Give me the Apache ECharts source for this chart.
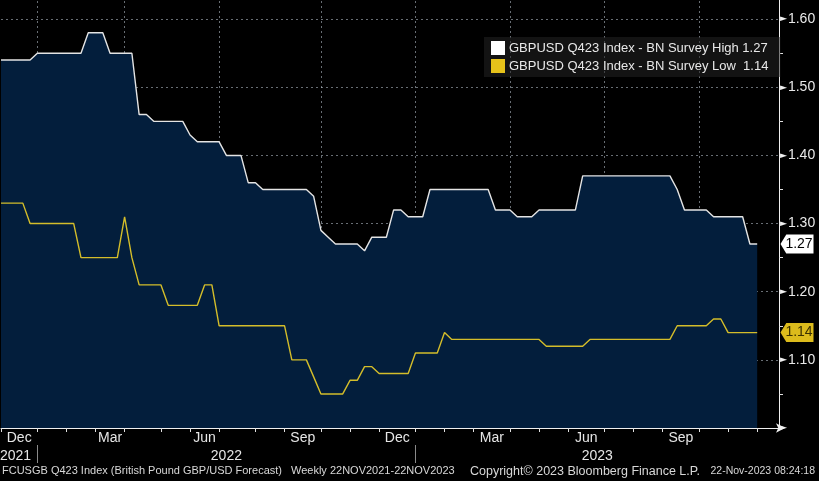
<!DOCTYPE html>
<html>
<head>
<meta charset="utf-8">
<script src="https://cdn.jsdelivr.net/npm/echarts@6/dist/echarts.min.js"></script>
<style>
html,body{margin:0;padding:0;background:#000;}
#c{width:819px;height:481px;}
</style>
</head>
<body>
<div id="c"></div>
<script>
// Weekly observation dates (Fridays), plus three empty weeks to the axis end
const dates = [
'2021-11-26','2021-12-03','2021-12-10','2021-12-17','2021-12-24','2021-12-31',
'2022-01-07','2022-01-14','2022-01-21','2022-01-28','2022-02-04','2022-02-11','2022-02-18','2022-02-25',
'2022-03-04','2022-03-11','2022-03-18','2022-03-25','2022-04-01','2022-04-08','2022-04-15','2022-04-22','2022-04-29',
'2022-05-06','2022-05-13','2022-05-20','2022-05-27','2022-06-03','2022-06-10','2022-06-17','2022-06-24',
'2022-07-01','2022-07-08','2022-07-15','2022-07-22','2022-07-29','2022-08-05','2022-08-12','2022-08-19','2022-08-26',
'2022-09-02','2022-09-09','2022-09-16','2022-09-23','2022-09-30','2022-10-07','2022-10-14','2022-10-21','2022-10-28',
'2022-11-04','2022-11-11','2022-11-18','2022-11-25','2022-12-02','2022-12-09','2022-12-16','2022-12-23','2022-12-30',
'2023-01-06','2023-01-13','2023-01-20','2023-01-27','2023-02-03','2023-02-10','2023-02-17','2023-02-24',
'2023-03-03','2023-03-10','2023-03-17','2023-03-24','2023-03-31','2023-04-07','2023-04-14','2023-04-21','2023-04-28',
'2023-05-05','2023-05-12','2023-05-19','2023-05-26','2023-06-02','2023-06-09','2023-06-16','2023-06-23','2023-06-30',
'2023-07-07','2023-07-14','2023-07-21','2023-07-28','2023-08-04','2023-08-11','2023-08-18','2023-08-25',
'2023-09-01','2023-09-08','2023-09-15','2023-09-22','2023-09-29','2023-10-06','2023-10-13','2023-10-20','2023-10-27',
'2023-11-03','2023-11-10','2023-11-17','2023-11-24','2023-12-01','2023-12-08','2023-12-15'
];

const highValues = [
1.54,1.54,1.54,1.54,1.54,
1.55,1.55,1.55,1.55,1.55,1.55,1.55,
1.58,1.58,1.58,
1.55,1.55,1.55,1.55,
1.46,1.46,
1.45,1.45,1.45,1.45,1.45,
1.43,
1.42,1.42,1.42,1.42,
1.40,1.40,1.40,
1.36,1.36,
1.35,1.35,1.35,1.35,1.35,1.35,1.35,
1.34,
1.29,1.28,
1.27,1.27,1.27,1.27,
1.26,
1.28,1.28,1.28,
1.32,1.32,
1.31,1.31,1.31,
1.35,1.35,1.35,1.35,1.35,1.35,1.35,1.35,1.35,
1.32,1.32,1.32,
1.31,1.31,1.31,
1.32,1.32,1.32,1.32,1.32,1.32,
1.37,1.37,1.37,1.37,1.37,1.37,1.37,1.37,1.37,1.37,1.37,1.37,1.37,
1.35,
1.32,1.32,1.32,1.32,
1.31,1.31,1.31,1.31,1.31,
1.27,1.27
];

const lowValues = [
1.33,1.33,1.33,1.33,
1.30,1.30,1.30,1.30,1.30,1.30,1.30,
1.25,1.25,1.25,1.25,1.25,1.25,
1.31,
1.25,
1.21,1.21,1.21,1.21,
1.18,1.18,1.18,1.18,1.18,
1.21,1.21,
1.15,1.15,1.15,1.15,1.15,1.15,1.15,1.15,1.15,1.15,
1.10,1.10,1.10,
1.075,
1.05,1.05,1.05,1.05,
1.07,1.07,
1.09,1.09,
1.08,1.08,1.08,1.08,1.08,
1.11,1.11,1.11,1.11,
1.14,
1.13,1.13,1.13,1.13,1.13,1.13,1.13,1.13,1.13,1.13,1.13,1.13,1.13,
1.12,1.12,1.12,1.12,1.12,1.12,
1.13,1.13,1.13,1.13,1.13,1.13,1.13,1.13,1.13,1.13,1.13,1.13,
1.15,1.15,1.15,1.15,1.15,
1.16,1.16,
1.14,1.14,1.14,1.14,1.14
];

const seriesNames = ['GBPUSD Q423 Index - BN Survey High', 'GBPUSD Q423 Index - BN Survey Low'];
const monthNames = ['Jan','Feb','Mar','Apr','May','Jun','Jul','Aug','Sep','Oct','Nov','Dec'];
const shownMonths = ['Dec','Mar','Jun','Sep'];
const quarterStartMonths = ['Jan','Apr','Jul','Oct'];
const footerTexts = [
  'FCUSGB Q423 Index (British Pound GBP/USD Forecast)',
  'Weekly 22NOV2021-22NOV2023',
  'Copyright\u00A9 2023 Bloomberg Finance L.P.',
  '22-Nov-2023 08:24:18'
];

const FONT = '"Liberation Sans",Arial,sans-serif';
const lastHigh = highValues[highValues.length - 1];
const lastLow = lowValues[lowValues.length - 1];
const lastDataIdx = highValues.length - 1;
const n = dates.length;

const mon = d => monthNames[parseInt(d.slice(5, 7), 10) - 1];
const yr = d => d.slice(0, 4);

// month / year boundaries: last weekly date before the month (year) changes
const monthBounds = new Set();
const quarterBounds = new Set();
const yearBounds = new Set();
const mb = [], ybArr = [];
for (let i = 0; i < n - 1; i++) {
  if (mon(dates[i]) !== mon(dates[i + 1])) {
    monthBounds.add(i); mb.push(i);
    if (quarterStartMonths.includes(mon(dates[i + 1]))) quarterBounds.add(i);
  }
  if (yr(dates[i]) !== yr(dates[i + 1])) { yearBounds.add(i); ybArr.push(i); }
}
const monthLabelAt = {};
{
  const edges = [0].concat(mb).concat([n - 1]);
  for (let k = 0; k < edges.length - 1; k++) {
    const a = edges[k], b = edges[k + 1];
    if (a + (k === 0 ? 0 : 1) > lastDataIdx) continue;
    const m = mon(dates[b]);
    if (!shownMonths.includes(m)) continue;
    const mid = (a + b) / 2;
    monthLabelAt[Math.floor(mid)] = { text: m, half: mid % 1 !== 0 };
  }
}
const yearLabelAt = {};
{
  const edges = [0].concat(ybArr).concat([n - 1]);
  for (let k = 0; k < edges.length - 1; k++) {
    const a = edges[k], b = edges[k + 1];
    const mid = k === 0 ? (a + b) / 2 - 0.5 : (a + b) / 2;
    yearLabelAt[Math.floor(mid)] = { text: yr(dates[b]), half: mid % 1 !== 0 };
  }
}

const chart = echarts.init(document.getElementById('c'), null, { renderer: 'canvas' });
const gridLineStyle = { color: 'rgba(190,200,212,0.55)', width: 1, type: [2, 3] };
const labelRich = (size) => ({
  n: { fontSize: size, color: '#e6e6e6', fontFamily: FONT },
  h: { fontSize: size, color: '#e6e6e6', fontFamily: FONT, padding: [0, 0, 0, 7.3] }
});

chart.setOption({
  animation: false,
  backgroundColor: '#000000',
  textStyle: { fontFamily: FONT },
  grid: { left: 1, right: 40, top: -49, bottom: 53, containLabel: false, outerBoundsMode: 'none' },
  legend: {
    orient: 'vertical',
    left: 484, top: 37,
    itemWidth: 14, itemHeight: 14, itemGap: 4,
    icon: 'rect',
    padding: [4, 12, 4, 7],
    backgroundColor: 'rgba(34,34,34,0.55)',
    textStyle: { color: '#e8e8e8', fontSize: 13, fontFamily: FONT, padding: [0, 0, 0, -1] },
    data: seriesNames,
    formatter: name => name === seriesNames[0] ? name + ' ' + lastHigh.toFixed(2) : name + '  ' + lastLow.toFixed(2)
  },
  xAxis: [
    {
      type: 'category', data: dates, boundaryGap: false, position: 'bottom',
      axisLine: { show: true, lineStyle: { color: '#f0f0f0', width: 1 }, symbol: ['none', 'arrow'], symbolSize: [7, 9], symbolOffset: [0, 6] },
      axisTick: { show: true, length: 4, lineStyle: { color: '#e0e0e0' }, interval: (i) => monthBounds.has(i) },
      splitLine: { show: true, lineStyle: gridLineStyle, interval: (i) => quarterBounds.has(i) },
      axisLabel: {
        show: true, margin: 3, interval: (i) => !!monthLabelAt[i],
        formatter: (v, i) => { const l = monthLabelAt[i]; return l ? (l.half ? '{h|' + l.text + '}' : '{n|' + l.text + '}') : ''; },
        rich: labelRich(14)
      }
    },
    {
      type: 'category', data: dates, boundaryGap: false, position: 'bottom', offset: 17,
      axisLine: { show: false },
      axisTick: { show: true, length: 18, lineStyle: { color: '#8a8a8a' }, interval: (i) => yearBounds.has(i) },
      splitLine: { show: false },
      axisLabel: {
        show: true, margin: 4, interval: (i) => !!yearLabelAt[i],
        formatter: (v, i) => { const l = yearLabelAt[i]; return l ? (l.half ? '{h|' + l.text + '}' : '{n|' + l.text + '}') : ''; },
        rich: labelRich(14)
      }
    }
  ],
  yAxis: {
    type: 'value', position: 'right', min: 1.0, max: 1.7, interval: 0.1,
    axisLine: { show: true, lineStyle: { color: '#f0f0f0', width: 1 } },
    axisTick: { show: false },
    minorTick: { show: true, splitNumber: 2, length: 4, lineStyle: { color: '#e0e0e0' } },
    splitLine: { show: true, lineStyle: gridLineStyle },
    axisLabel: {
      margin: 1,
      formatter: v => Math.abs(v - 1) < 1e-6 ? '{a|\u25BA}' : '{a|\u25BA}{b|' + v.toFixed(2) + '}',
      rich: {
        a: { fontSize: 9, color: '#f0f0f0', fontFamily: 'DejaVu Sans', padding: [0, 1, 0, 0] },
        b: { fontSize: 14, color: '#e8e8e8', fontFamily: FONT }
      }
    }
  },
  series: [
    {
      name: seriesNames[0], type: 'line', data: highValues, showSymbol: false, symbol: 'none',
      lineStyle: { color: '#e4e4e4', width: 1.4 },
      itemStyle: { color: '#ffffff' },
      areaStyle: { color: '#031e3c', opacity: 1, origin: 'start' },
      z: 2,
      markPoint: {
        silent: true,
        symbol: 'path://M0,10L7,0L40,0L40,20L7,20Z', symbolKeepAspect: false,
        symbolSize: [33, 19], symbolOffset: [18, 0],
        itemStyle: { color: '#ffffff' },
        label: { show: true, position: 'inside', color: '#000000', fontSize: 14, fontFamily: FONT, offset: [2, 0], formatter: () => lastHigh.toFixed(2) },
        data: [{ coord: [dates[n - 1], lastHigh] }]
      }
    },
    {
      name: seriesNames[1], type: 'line', data: lowValues, showSymbol: false, symbol: 'none',
      lineStyle: { color: '#d4bd2a', width: 1.4 },
      itemStyle: { color: '#e6c21a' },
      z: 3,
      markPoint: {
        silent: true,
        symbol: 'path://M0,10L7,0L40,0L40,20L7,20Z', symbolKeepAspect: false,
        symbolSize: [33, 19], symbolOffset: [18, 0],
        itemStyle: { color: '#dcbb1c' },
        label: { show: true, position: 'inside', color: '#3a3000', fontSize: 14, fontFamily: FONT, offset: [2, 0], formatter: () => lastLow.toFixed(2) },
        data: [{ coord: [dates[n - 1], lastLow] }]
      }
    }
  ],
  graphic: [
    { type: 'text', left: 2, top: 465, style: { text: footerTexts[0], fill: '#d8d8d8', font: '11px ' + FONT } },
    { type: 'text', left: 291, top: 465, style: { text: footerTexts[1], fill: '#d8d8d8', font: '11px ' + FONT } },
    { type: 'text', left: 470, top: 465, style: { text: footerTexts[2], fill: '#d8d8d8', font: '12.5px ' + FONT } },
    { type: 'text', right: 4, top: 466, style: { text: footerTexts[3], fill: '#d8d8d8', font: '10.5px ' + FONT } }
  ]
});
</script>
</body>
</html>
